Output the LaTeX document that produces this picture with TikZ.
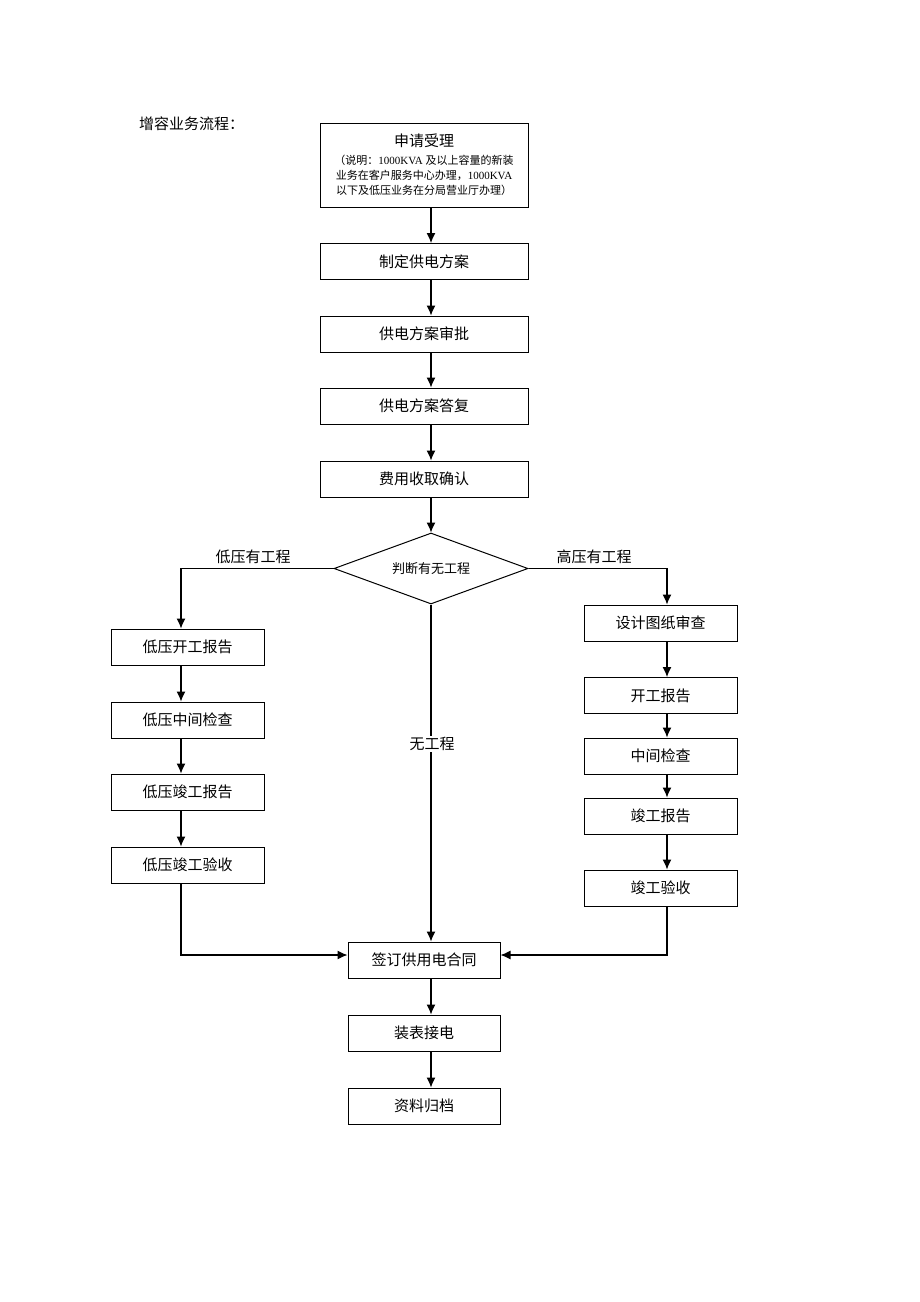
\documentclass[tikz,border=0pt]{standalone}
\usepackage{fontspec}
\setmainfont{Liberation Serif}
\newfontfamily\cjk{Noto Sans CJK SC}
\usetikzlibrary{arrows.meta,shapes.geometric}

\begin{document}
\begin{tikzpicture}[
	x=1pt, y=-1pt,
	box/.style={draw, line width=1pt, inner sep=0pt, font=\cjk\fontsize{15}{18}\selectfont},
	mid/.style={box, minimum width=208pt, minimum height=36pt},
	side/.style={box, minimum width=153pt, minimum height=36pt},
	flow/.style={line width=1.2pt, -{Latex[length=10pt,width=9pt]}},
	lbl/.style={font=\cjk\fontsize{15}{18}\selectfont, inner sep=1pt}
]
\useasboundingbox (0,0) rectangle (920,1302);

%% title
\node[lbl, anchor=west] (title) at (138,124) {增容业务流程：};

%% middle column
\node[mid, minimum height=84pt, align=center, font=\cjk\fontsize{11}{15}\selectfont] (sq) at (424,165)
	{{\fontsize{15}{18}\selectfont 申请受理}\\[3pt]
	 （说明：\rmfamily 1000KVA \cjk 及以上容量的新装\\
	 业务在客户服务中心办理，\rmfamily 1000KVA\\
	 以下及低压业务在分局营业厅办理）};
\node[mid] (zd) at (424,261.5) {制定供电方案};
\node[mid] (sp) at (424,334) {供电方案审批};
\node[mid] (df) at (424,406) {供电方案答复};
\node[mid] (fy) at (424,479) {费用收取确认};
\node[draw, line width=1pt, diamond, aspect=2.73, minimum width=194pt, minimum height=71pt,
	inner sep=0pt, font=\cjk\fontsize{13}{15}\selectfont] (pd) at (431,568.5) {判断有无工程};

%% low voltage
\node[side] (d1) at (187.5,647) {低压开工报告};
\node[side] (d2) at (187.5,720) {低压中间检查};
\node[side] (d3) at (187.5,792) {低压竣工报告};
\node[side] (d4) at (187.5,865) {低压竣工验收};

%% high voltage
\node[side] (g1) at (660.5,623) {设计图纸审查};
\node[side] (g2) at (660.5,695.5) {开工报告};
\node[side] (g3) at (660.5,756) {中间检查};
\node[side] (g4) at (660.5,816) {竣工报告};
\node[side] (g5) at (660.5,888) {竣工验收};

%% bottom
\node[box, minimum width=152pt, minimum height=36pt] (ht) at (424,960) {签订供用电合同};
\node[box, minimum width=152pt, minimum height=36pt] (jd) at (424,1033) {装表接电};
\node[box, minimum width=152pt, minimum height=36pt] (zl) at (424,1106) {资料归档};

%% labels
\node[lbl] (dy) at (253,557) {低压有工程};
\node[lbl] (gy) at (594,557) {高压有工程};
\node[lbl] (wu) at (432,744) {无工程};

%% guide lines for the side columns
\coordinate (lx) at (181,0);
\coordinate (rx) at (667,0);
\coordinate (hy) at (0,955);

%% connectors
\draw[flow] (sq.south -| pd) -- (zd.north -| pd);
\draw[flow] (zd.south -| pd) -- (sp.north -| pd);
\draw[flow] (sp.south -| pd) -- (df.north -| pd);
\draw[flow] (df.south -| pd) -- (fy.north -| pd);
\draw[flow] (fy.south -| pd) -- (pd.north);

\draw[flow] (pd.west) -| (d1.north -| lx);
\draw[flow] (d1.south -| lx) -- (d2.north -| lx);
\draw[flow] (d2.south -| lx) -- (d3.north -| lx);
\draw[flow] (d3.south -| lx) -- (d4.north -| lx);

\draw[flow] (pd.east) -| (g1.north -| rx);
\draw[flow] (g1.south -| rx) -- (g2.north -| rx);
\draw[flow] (g2.south -| rx) -- (g3.north -| rx);
\draw[flow] (g3.south -| rx) -- (g4.north -| rx);
\draw[flow] (g4.south -| rx) -- (g5.north -| rx);

\draw[line width=1.2pt] (pd.south) -- (wu.north -| pd);
\draw[flow] (wu.south -| pd) -- (ht.north -| pd);

\draw[flow] (d4.south -| lx) |- (ht.west |- hy);
\draw[flow] (g5.south -| rx) |- (ht.east |- hy);

\draw[flow] (ht.south -| pd) -- (jd.north -| pd);
\draw[flow] (jd.south -| pd) -- (zl.north -| pd);
\end{tikzpicture}
\end{document}
